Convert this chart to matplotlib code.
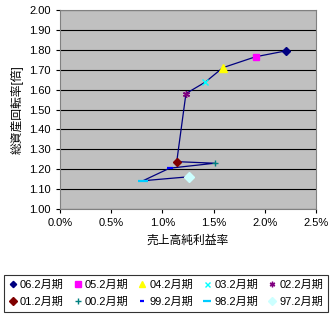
import numpy as np
import matplotlib.pyplot as plt
from matplotlib.ticker import FuncFormatter

plt.rcParams['font.family'] = ['Liberation Sans', 'Noto Sans CJK JP']

# data, ordered newest -> oldest
periods = ['06.2月期', '05.2月期', '04.2月期', '03.2月期', '02.2月期',
           '01.2月期', '00.2月期', '99.2月期', '98.2月期', '97.2月期']
margin = [2.21, 1.91, 1.59, 1.42, 1.23, 1.14, 1.51, 1.07, 0.81, 1.26]   # %
turnover = [1.795, 1.765, 1.71, 1.638, 1.58, 1.238, 1.23, 1.205, 1.142, 1.162]

markers = ['D', 's', '^', 'x', (6, 2, 0), 'D', '+', '_', '_', 'D']
colors = ['#000080', '#FF00FF', '#FFFF00', '#00FFFF', '#800080',
          '#800000', '#008080', '#0000FF', '#00CCFF', '#CCFFFF']
sizes = [4, 5, 6, 4.5, 5, 4.5, 5, 4, 7, 5]

fig = plt.figure(figsize=(3.32, 3.2), dpi=100)
ax = fig.add_axes([60/332, 1-209/320, 256/332, 199/320])
ax.set_facecolor('#C0C0C0')

ax.plot(np.array(margin)/100, turnover, color='#000080', lw=0.9, zorder=2)
handles = []
for i in range(len(periods)):
    mew = 1.6 if markers[i] == '_' else 1.0
    h, = ax.plot(margin[i]/100, turnover[i], ls='None', marker=markers[i],
                 color=colors[i], ms=sizes[i], mew=mew, label=periods[i], zorder=3)
    handles.append(h)

ax.set_xlim(0, 0.025)
ax.set_ylim(1.0, 2.0)
ax.set_xticks(np.arange(0, 0.0251, 0.005))
ax.set_yticks(np.arange(1.0, 2.001, 0.1))
ax.xaxis.set_major_formatter(FuncFormatter(lambda v, p: '%.1f%%' % (v*100)))
ax.yaxis.set_major_formatter(FuncFormatter(lambda v, p: '%.2f' % v))
ax.yaxis.grid(True, color='black', lw=0.8)
ax.set_axisbelow(True)
ax.tick_params(labelsize=8, length=3, width=0.8, direction='out')
for s in ax.spines.values():
    s.set_color('#808080')
    s.set_linewidth(0.8)

ax.set_xlabel('売上高純利益率', fontsize=8.5, labelpad=5)
ax.set_ylabel('総資産回転率[倍]', fontsize=8.5, labelpad=4)

# legend is filled row by row in the reference
order = [0, 5, 1, 6, 2, 7, 3, 8, 4, 9]
leg = fig.legend([handles[i] for i in order], [periods[i] for i in order],
                 loc='lower center', bbox_to_anchor=(0.5, 0.008), ncol=5,
                 fontsize=8, frameon=True, fancybox=False, edgecolor='black',
                 handlelength=0.7, handletextpad=0.3, columnspacing=0.9,
                 borderpad=0.45, labelspacing=0.6, markerscale=0.8)
leg.get_frame().set_linewidth(0.8)

fig.savefig('out.png', dpi=100)
